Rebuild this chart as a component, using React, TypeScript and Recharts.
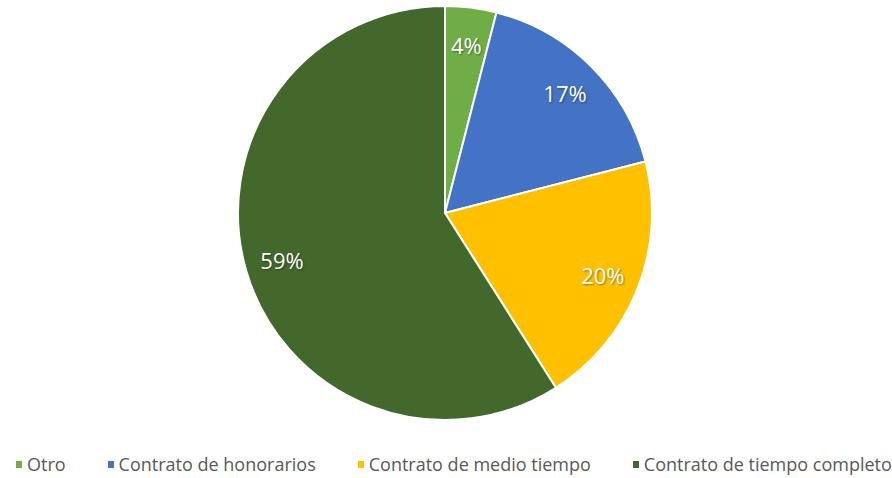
import React from "react";
import { PieChart, Pie, Cell, Legend } from "recharts";

const categories = [
  "Otro",
  "Contrato de honorarios",
  "Contrato de medio tiempo",
  "Contrato de tiempo completo",
];
const shares = [4, 17, 20, 59];
const colors = ["#70AD47", "#4472C4", "#FFC000", "#43682B"];

const data = categories.map((name, i) => ({ name, value: shares[i] }));

const RAD = Math.PI / 180;

const renderLabel = (props: any) => {
  const { cx, cy, midAngle, outerRadius, value } = props;
  const r = outerRadius * 0.82;
  const x = cx + r * Math.cos(-midAngle * RAD);
  const y = cy + r * Math.sin(-midAngle * RAD);
  return (
    <text
      x={x}
      y={y}
      fill="#ffffff"
      textAnchor="middle"
      dominantBaseline="central"
      fontSize={22}
      fontFamily="'Open Sans', sans-serif"
      style={{ textShadow: "1px 1px 2px rgba(0,0,0,0.4)" }}
    >
      {`${value}%`}
    </text>
  );
};

const renderLegend = () => (
  <div
    style={{
      display: "flex",
      alignItems: "center",
      paddingLeft: 16,
      fontFamily: "'Open Sans', sans-serif",
      fontSize: 18,
      color: "#595959",
      whiteSpace: "nowrap",
    }}
  >
    {categories.map((c, i) => (
      <div key={c} style={{ display: "flex", alignItems: "center", marginRight: 42 }}>
        <span style={{ width: 6, height: 7, background: colors[i], marginRight: 5, display: "inline-block" }} />
        <span>{c}</span>
      </div>
    ))}
  </div>
);

export default function App() {
  return (
    <div style={{ position: "absolute", left: 0, top: 0, width: 892, height: 478, background: "#fff" }}>
      <PieChart width={892} height={478} margin={{ top: 0, right: 0, bottom: 0, left: 0 }}>
        <Pie
          data={data}
          dataKey="value"
          nameKey="name"
          cx={445}
          cy={213}
          outerRadius={207}
          startAngle={90}
          endAngle={-270}
          stroke="#ffffff"
          strokeWidth={2}
          label={renderLabel}
          labelLine={false}
          isAnimationActive={false}
        >
          {data.map((d, i) => (
            <Cell key={d.name} fill={colors[i]} />
          ))}
        </Pie>
        <Legend
          content={renderLegend}
          wrapperStyle={{ left: 0, top: 452, width: 892, height: 27 }}
        />
      </PieChart>
    </div>
  );
}
